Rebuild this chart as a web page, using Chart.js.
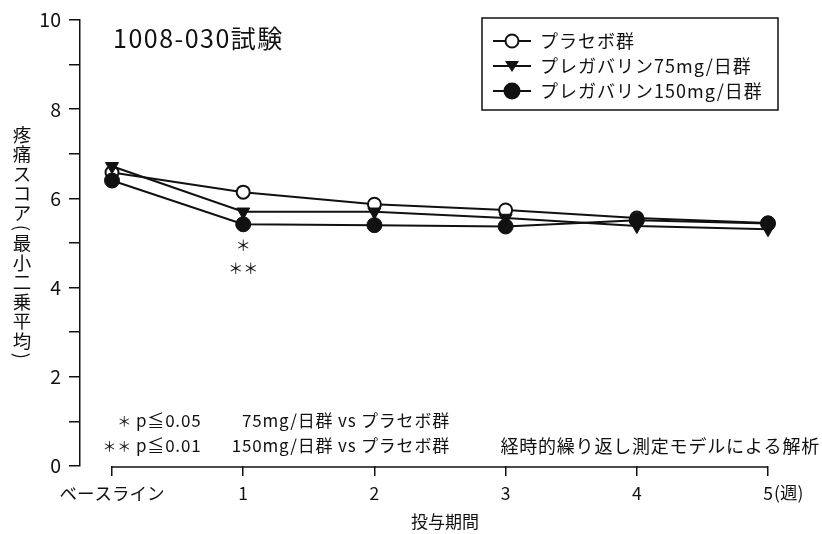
<!DOCTYPE html>
<html>
<head>
<meta charset="utf-8">
<script src="https://cdn.jsdelivr.net/npm/chart.js@4/dist/chart.umd.min.js"></script>
<style>body{margin:0;background:#fff}</style>
</head>
<body>
<canvas id="chart" width="822" height="534"></canvas>
<script>
// Data
const weeks = [0, 1, 2, 3, 4, 5];
const xLabels = ['ベースライン', '1', '2', '3', '4', '5'];
const yTicks = [0, 1, 2, 3, 4, 5, 6, 7, 8, 9, 10];
const placebo = [6.58, 6.14, 5.87, 5.74, 5.56, 5.45];
const dose75 = [6.72, 5.70, 5.70, 5.56, 5.38, 5.31];
const dose150 = [6.40, 5.42, 5.40, 5.37, 5.51, 5.44];
const seriesNames = ['プラセボ群', 'プレガバリン75mg/日群', 'プレガバリン150mg/日群'];

const JP = '"Noto Sans CJK JP", "Noto Sans", sans-serif';
const toPoints = arr => weeks.map((w, i) => ({x: w, y: arr[i]}));

// Custom drawing: axis line, titles, legend box, notes
const extras = {
    id: 'extras',
    afterDraw(chart) {
        const ctx = chart.ctx;
        const xs = chart.scales.x, ys = chart.scales.y;
        const area = chart.chartArea;
        ctx.save();
        ctx.strokeStyle = '#111';
        ctx.fillStyle = '#111';

        // x axis line only between baseline and week 5
        ctx.lineWidth = 1.5;
        ctx.beginPath();
        ctx.moveTo(xs.getPixelForValue(weeks[0]), area.bottom + 1);
        ctx.lineTo(xs.getPixelForValue(weeks[weeks.length - 1]), area.bottom + 1);
        ctx.stroke();

        // (週) after the last tick label
        ctx.font = '17.5px ' + JP;
        ctx.textAlign = 'left';
        ctx.textBaseline = 'middle';
        ctx.fillText('(週)', xs.getPixelForValue(5) + 6, 492);

        // vertical y title
        const chars = ['疼','痛','ス','コ','ア','(','最','小','二','乗','平','均',')'];
        ctx.font = '18.5px ' + JP;
        ctx.textAlign = 'center';
        let cy = 125;
        chars.forEach(c => {
            const paren = c === '(' || c === ')';
            const step = paren ? 11 : 19.5;
            const mid = cy + step / 2;
            if (paren) {
                ctx.save();
                ctx.translate(22, mid);
                ctx.rotate(Math.PI / 2);
                ctx.fillText(c, 0, 0);
                ctx.restore();
            } else {
                ctx.fillText(c, 22, mid);
            }
            cy += step;
        });

        // chart title
        ctx.font = '25px ' + JP;
        ctx.letterSpacing = '1.5px';
        ctx.textAlign = 'left';
        ctx.fillText('1008-030試験', 113, 38);
        ctx.letterSpacing = '0px';

        // legend box
        ctx.lineWidth = 1.5;
        ctx.strokeRect(482, 18, 296, 92);
        ctx.font = '18px ' + JP;
        ctx.letterSpacing = '1px';
        const rows = [41, 66, 91];
        chart.data.datasets.forEach((ds, i) => {
            const y = rows[i];
            ctx.lineWidth = 2;
            ctx.beginPath();
            ctx.moveTo(493, y);
            ctx.lineTo(531, y);
            ctx.stroke();
            const px = 512;
            ctx.beginPath();
            if (ds.pointStyle === 'triangle') {
                ctx.moveTo(px - 7, y - 5);
                ctx.lineTo(px + 7, y - 5);
                ctx.lineTo(px, y + 6);
                ctx.closePath();
                ctx.fillStyle = '#111';
                ctx.fill();
            } else {
                ctx.arc(px, y, ds.pointRadius, 0, Math.PI * 2);
                ctx.fillStyle = ds.pointBackgroundColor;
                ctx.fill();
                ctx.stroke();
            }
            ctx.fillStyle = '#111';
            ctx.fillText(ds.label, 540, y);
        });
        ctx.letterSpacing = '0px';

        // significance marks under week 1
        const x1 = xs.getPixelForValue(1);
        const y1 = ys.getPixelForValue(dose150[1]);
        ctx.font = '15px ' + JP;
        ctx.textAlign = 'center';
        ctx.fillText('＊', x1, y1 + 21);
        ctx.fillText('＊＊', x1, y1 + 44);

        // footnotes
        ctx.font = '17px ' + JP;
        ctx.letterSpacing = '0.8px';
        ctx.textAlign = 'right';
        ctx.font = '14px ' + JP;
        ctx.fillText('＊', 132, 421);
        ctx.fillText('＊＊', 132, 446);
        ctx.font = '17px ' + JP;
        ctx.textAlign = 'left';
        ctx.fillText('p≦0.05', 136, 421);
        ctx.fillText('p≦0.01', 136, 446);
        ctx.textAlign = 'right';
        ctx.fillText('75mg/日群 vs プラセボ群', 450, 421);
        ctx.fillText('150mg/日群 vs プラセボ群', 450, 446);
        ctx.font = '18px ' + JP;
        ctx.fillText('経時的繰り返し測定モデルによる解析', 820, 446);
        ctx.letterSpacing = '0px';
        ctx.restore();
    }
};

const ctx = document.getElementById('chart').getContext('2d');
new Chart(ctx, {
    type: 'line',
    data: {
        datasets: [
            {label: seriesNames[0], data: toPoints(placebo), order: 2,
             borderColor: '#111', borderWidth: 2, pointStyle: 'circle', pointRadius: 6.5,
             pointBackgroundColor: '#fff', pointBorderColor: '#111', pointBorderWidth: 2},
            {label: seriesNames[1], data: toPoints(dose75), order: 1,
             borderColor: '#111', borderWidth: 2, pointStyle: 'triangle', rotation: 180, pointRadius: 7.5,
             pointBackgroundColor: '#111', pointBorderColor: '#111', pointBorderWidth: 1},
            {label: seriesNames[2], data: toPoints(dose150), order: 0,
             borderColor: '#111', borderWidth: 2, pointStyle: 'circle', pointRadius: 7.5,
             pointBackgroundColor: '#111', pointBorderColor: '#111', pointBorderWidth: 1}
        ]
    },
    options: {
        responsive: false,
        animation: false,
        layout: {padding: {top: 20, right: 12, left: 0, bottom: 0}},
        plugins: {legend: {display: false}, tooltip: {enabled: false}},
        scales: {
            x: {
                type: 'linear', min: -0.244, max: 5.32,
                afterBuildTicks: s => { s.ticks = weeks.map(v => ({value: v})); },
                afterFit: s => { s.height = 68; },
                border: {display: false},
                grid: {drawOnChartArea: false, tickLength: 10, color: '#111', lineWidth: 1.5},
                ticks: {color: '#111', font: {size: 17.5, family: JP}, padding: 7, maxRotation: 0,
                        callback: v => xLabels[weeks.indexOf(v)]},
                title: {display: true, text: '投与期間', color: '#111', font: {size: 17, family: JP},
                        padding: {top: 0, bottom: 2}}
            },
            y: {
                min: 0, max: 10,
                afterBuildTicks: s => { s.ticks = yTicks.map(v => ({value: v})); },
                afterFit: s => { s.width = 80; },
                border: {color: '#111', width: 1.5},
                grid: {drawOnChartArea: false, tickLength: 11, color: '#111', lineWidth: 1.5},
                ticks: {color: '#111', font: {size: 19.5, family: JP}, padding: 8,
                        callback: v => v % 2 === 0 ? v : ''}
            }
        }
    },
    plugins: [extras]
});
</script>
</body>
</html>
